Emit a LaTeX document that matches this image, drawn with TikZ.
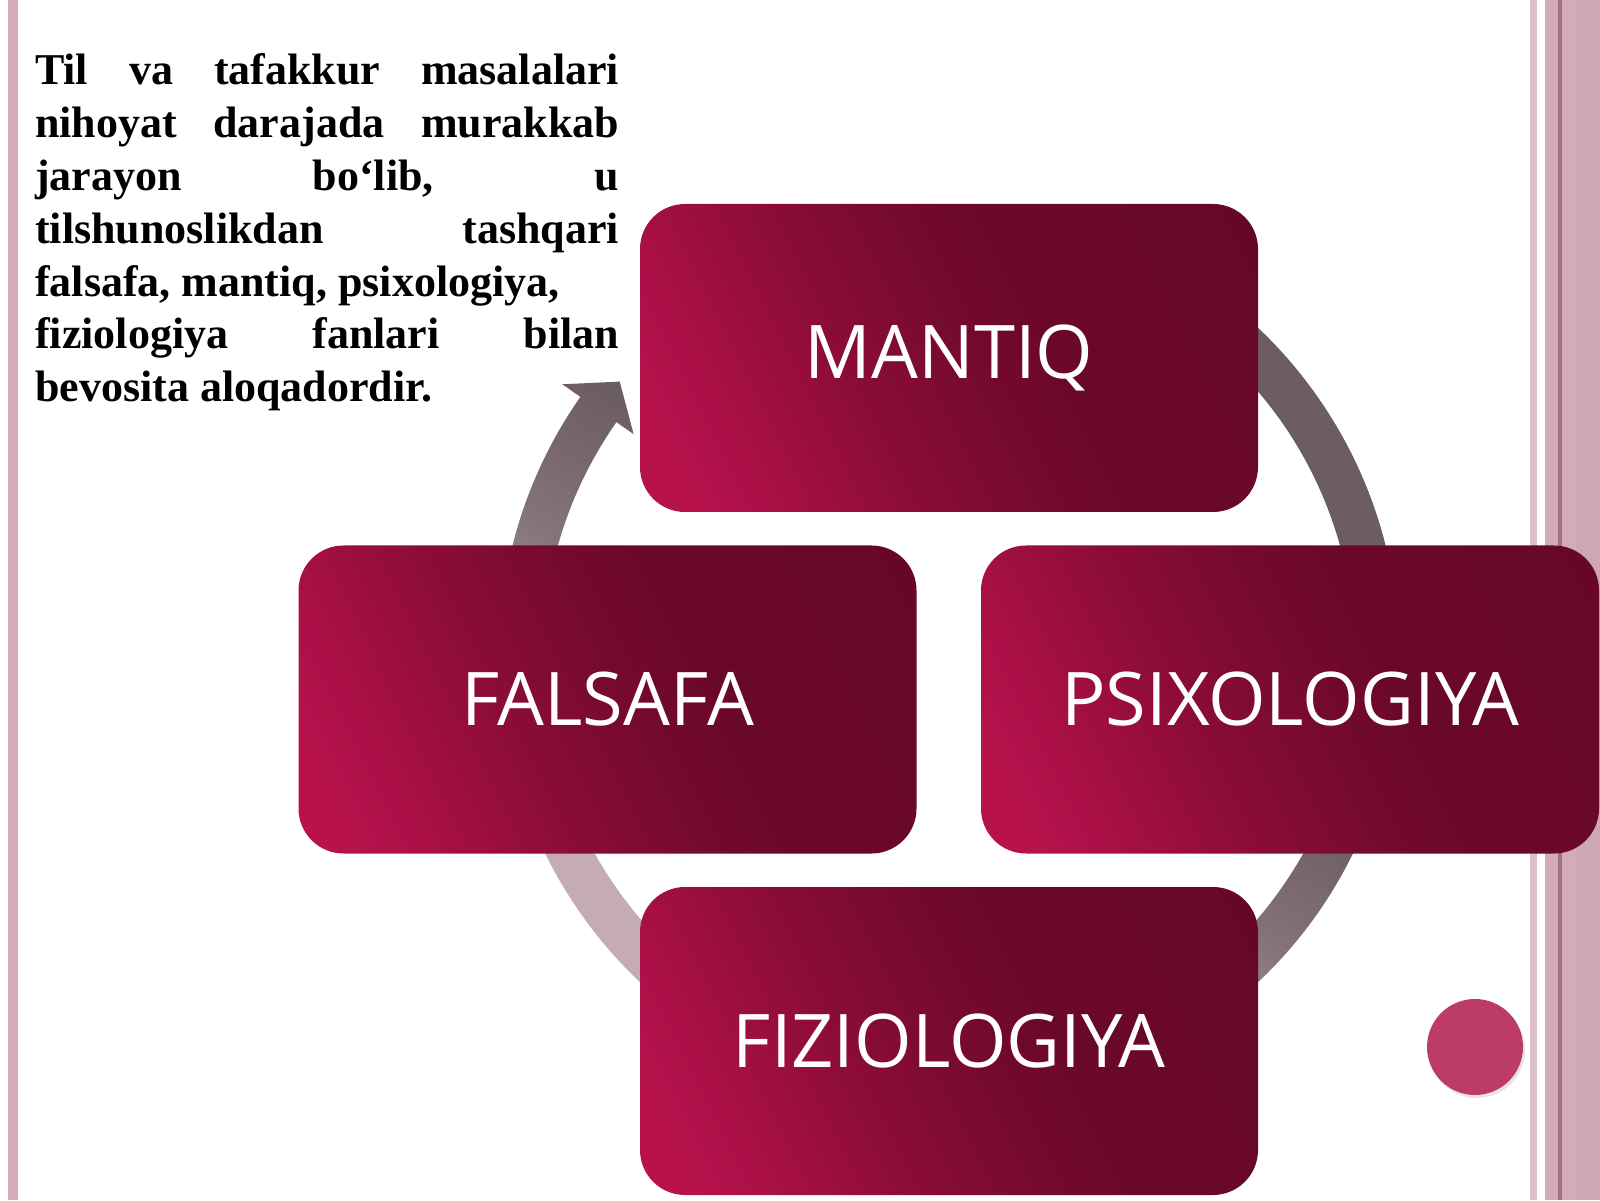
\documentclass[tikz,border=0pt]{standalone}
\usepackage{fontspec}
\setmainfont{Liberation Serif}
\newfontfamily\boxfont{Open Sans}
\usetikzlibrary{calc}
\definecolor{brightc}{HTML}{B8124D}
\definecolor{brightc2}{HTML}{A20F43}
\definecolor{midc}{HTML}{8A0C36}
\definecolor{midc2}{HTML}{760A2F}
\definecolor{darkc}{HTML}{6A0829}
\definecolor{darkerc}{HTML}{650727}
\definecolor{stripec}{HTML}{D3ABBB}
\definecolor{stripec2}{HTML}{CFA6B6}
\definecolor{stripelight}{HTML}{DDBFCB}
\definecolor{stripedark}{HTML}{A27383}
\definecolor{dotc}{HTML}{BD3B69}
\definecolor{ringlight}{HTML}{C4ABB4}
\definecolor{ringmid}{HTML}{85747A}
\definecolor{ringdark}{HTML}{6C5D62}
\pgfdeclarehorizontalshading{boxshade}{100bp}{color(0bp)=(brightc); color(21bp)=(brightc); color(31bp)=(brightc2); color(41bp)=(midc); color(51bp)=(midc2); color(60bp)=(darkc); color(100bp)=(darkerc)}
\pgfdeclarehorizontalshading{ringshade}{100bp}{color(0bp)=(ringlight); color(35bp)=(ringlight); color(45bp)=(ringmid); color(53bp)=(ringdark); color(100bp)=(ringdark)}
\newcommand{\myringpath}{([shift={(125:450pt)}]C) arc[start angle=125, end angle=-215, radius=450pt]
  -- ([shift={(-215:472pt)}]C)
  -- ([shift={(-219.7:428pt)}]C)
  -- ([shift={(-215:385pt)}]C)
  -- ([shift={(-215:406pt)}]C)
  arc[start angle=-215, end angle=125, radius=406pt] -- cycle}
\tikzset{
  boxnode/.style={shade, shading=boxshade, shading angle=26.5, rounded corners=45pt,
    minimum width=618pt, minimum height=308pt, inner sep=0pt,
    text=white, font=\boxfont\fontsize{74}{80}\selectfont},
  txtline/.style={anchor=base west, inner sep=0pt, font=\fontsize{44}{52.8}\selectfont\bfseries}
}
\begin{document}
\begin{tikzpicture}[x=1pt,y=1pt]
\useasboundingbox (0,0) rectangle (1600,1200);
\fill[white] (0,0) rectangle (1600,1200);
% left stripe
\fill[stripec] (8,0) rectangle (18,1200);
% right stripes
\fill[stripelight] (1530,0) rectangle (1537,1200);
\fill[stripec] (1545,0) rectangle (1600,1200);
\fill[stripedark] (1558,0) rectangle (1562,1200);
\fill[stripec2] (1576,0) rectangle (1600,1200);
% ring arrow
\coordinate (C) at (949,545);
\begin{scope}
  \clip \myringpath;
  \shade[shading=ringshade, shading angle=60] ([shift={(-475,-475)}]C) rectangle ([shift={(475,475)}]C);
\end{scope}
% boxes
\node[boxnode] (mantiq) at (949,842) {MANTIQ};
\node[boxnode] (falsafa) at (607.5,500.5) {FALSAFA};
\node[boxnode] (psix) at (1290,500.5) {PSIXOLOGIYA};
\node[boxnode] (fiz) at (949,159) {FIZIOLOGIYA};
% text
\node[txtline] (l1) at (35,1115) {\makebox[584pt][s]{Til va tafakkur masalalari}};
\node[txtline] (l2) at (35,1062.2) {\makebox[584pt][s]{nihoyat darajada murakkab}};
\node[txtline] (l3) at (35,1009.4) {\makebox[584pt][s]{jarayon bo‘lib, u}};
\node[txtline] (l4) at (35,956.6) {\makebox[584pt][s]{tilshunoslikdan tashqari}};
\node[txtline] (l5) at (35,903.8) {falsafa, mantiq, psixologiya,};
\node[txtline] (l6) at (35,851) {\makebox[584pt][s]{fiziologiya fanlari bilan}};
\node[txtline] (l7) at (35,798.2) {bevosita aloqadordir.};
% dot
\fill[black!10] (1477,150) circle[radius=48pt];
\node[circle, fill=dotc, minimum size=96pt, inner sep=0pt] (dot) at (1475,153) {};
\end{tikzpicture}
\end{document}
